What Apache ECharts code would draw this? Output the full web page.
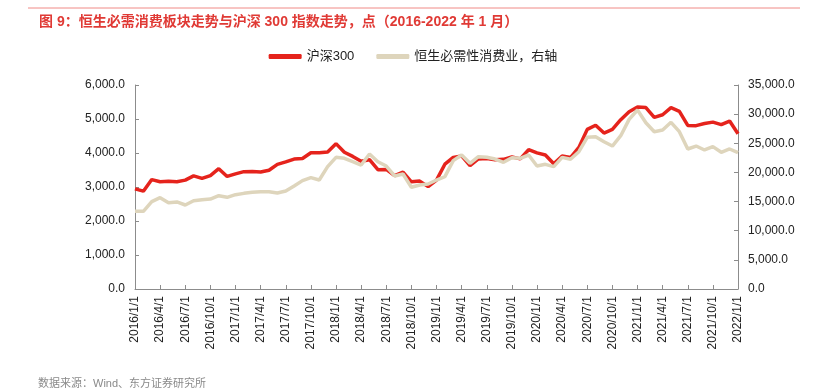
<!DOCTYPE html>
<html lang="zh-CN">
<head>
	<meta charset="UTF-8">
	<title>恒生必需消费板块走势与沪深300指数走势</title>
	<script src="https://cdn.jsdelivr.net/npm/echarts@6/dist/echarts.min.js"></script>
	<style type="text/css">
		html, body { margin: 0; padding: 0; background: #fff; }
		#main { width: 826px; height: 390px; }
	</style>
</head>
<body>
	<div id="main"></div>
	<script type="text/javascript">
		var months = [
			'2016/1/1', '2016/2/1', '2016/3/1', '2016/4/1', '2016/5/1', '2016/6/1', '2016/7/1', '2016/8/1', '2016/9/1', '2016/10/1', '2016/11/1', '2016/12/1',
			'2017/1/1', '2017/2/1', '2017/3/1', '2017/4/1', '2017/5/1', '2017/6/1', '2017/7/1', '2017/8/1', '2017/9/1', '2017/10/1', '2017/11/1', '2017/12/1',
			'2018/1/1', '2018/2/1', '2018/3/1', '2018/4/1', '2018/5/1', '2018/6/1', '2018/7/1', '2018/8/1', '2018/9/1', '2018/10/1', '2018/11/1', '2018/12/1',
			'2019/1/1', '2019/2/1', '2019/3/1', '2019/4/1', '2019/5/1', '2019/6/1', '2019/7/1', '2019/8/1', '2019/9/1', '2019/10/1', '2019/11/1', '2019/12/1',
			'2020/1/1', '2020/2/1', '2020/3/1', '2020/4/1', '2020/5/1', '2020/6/1', '2020/7/1', '2020/8/1', '2020/9/1', '2020/10/1', '2020/11/1', '2020/12/1',
			'2021/1/1', '2021/2/1', '2021/3/1', '2021/4/1', '2021/5/1', '2021/6/1', '2021/7/1', '2021/8/1', '2021/9/1', '2021/10/1', '2021/11/1', '2021/12/1',
			'2022/1/1'
		];

		// 沪深300（左轴）
		var hs300 = [
			2946, 2877, 3218, 3156, 3169, 3154, 3203, 3327, 3253, 3336, 3538, 3311,
			3387, 3452, 3456, 3439, 3493, 3666, 3737, 3822, 3837, 4006, 4006, 4031,
			4275, 4023, 3899, 3757, 3802, 3510, 3517, 3335, 3439, 3153, 3173, 3011,
			3202, 3670, 3872, 3913, 3630, 3826, 3836, 3799, 3814, 3886, 3828, 4097,
			4004, 3940, 3686, 3912, 3867, 4164, 4695, 4817, 4587, 4695, 4980, 5211,
			5352, 5336, 5048, 5124, 5332, 5224, 4812, 4805, 4866, 4908, 4833, 4940,
			4564
		];

		// 恒生必需性消费业（右轴）
		var hsStaples = [
			13330, 13330, 14980, 15670, 14810, 14930, 14410, 15150, 15330, 15440, 16010, 15730,
			16180, 16410, 16590, 16700, 16700, 16470, 16800, 17670, 18590, 19100, 18700, 20990,
			22590, 22420, 21840, 21270, 23160, 21840, 21100, 19390, 19730, 17450, 17840, 18010,
			18700, 19270, 22020, 22990, 21560, 22700, 22590, 22300, 21730, 22530, 22420, 22990,
			21100, 21390, 20990, 22590, 22250, 23560, 26020, 26130, 25270, 24530, 26300, 29110,
			30710, 28530, 26990, 27280, 28600, 26990, 24020, 24530, 23850, 24420, 23450, 24020,
			23390
		];

		var leftTicks = { min: 0, max: 6000, interval: 1000 };
		var rightTicks = { min: 0, max: 35000, interval: 5000 };

		var FONT = "'Liberation Sans', 'Noto Sans CJK SC', sans-serif";
		var RED = '#e5231c';
		var BEIGE = '#ded5bc';
		var AXIS = '#8c8c8c';

		function fmt(v) {
			return v.toLocaleString('en-US', { minimumFractionDigits: 1, maximumFractionDigits: 1 });
		}

		var chart = echarts.init(document.getElementById('main'));

		var option = {
			animation: false,
			textStyle: { fontFamily: FONT },
			title: {
				text: '图 9：恒生必需消费板块走势与沪深 300 指数走势，点（2016-2022 年 1 月）',
				left: 34,
				top: 10,
				textStyle: { color: '#e03a35', fontSize: 14, fontWeight: 'bold', fontFamily: FONT }
			},
			graphic: [
				{
					type: 'line',
					shape: { x1: 28, y1: 8, x2: 800, y2: 8 },
					style: { stroke: '#f08a86', lineWidth: 1 }
				},
				{
					type: 'text',
					left: 38,
					top: 378,
					style: { text: '数据来源：Wind、东方证券研究所', fill: '#8a8a8a', fontSize: 11, fontFamily: FONT }
				}
			],
			legend: {
				top: 45,
				left: 'center',
				itemWidth: 33,
				itemHeight: 5,
				itemGap: 22,
				icon: 'roundRect',
				textStyle: { color: '#222', fontSize: 13, fontFamily: FONT },
				data: ['沪深300', '恒生必需性消费业，右轴']
			},
			grid: { left: 135, right: 88, top: 85, bottom: 101 },
			xAxis: {
				type: 'category',
				boundaryGap: false,
				data: months,
				axisLine: { lineStyle: { color: AXIS } },
				axisTick: { inside: true, interval: 2, length: 4, lineStyle: { color: AXIS } },
				axisLabel: { interval: 2, rotate: 90, fontSize: 12, color: '#222', margin: 7 }
			},
			yAxis: [
				{
					type: 'value',
					min: leftTicks.min,
					max: leftTicks.max,
					interval: leftTicks.interval,
					splitLine: { show: false },
					axisLine: { show: true, lineStyle: { color: AXIS } },
					axisTick: { show: true, inside: true, length: 4, lineStyle: { color: AXIS } },
					axisLabel: { formatter: fmt, fontSize: 12, color: '#222', margin: 10 }
				},
				{
					type: 'value',
					min: rightTicks.min,
					max: rightTicks.max,
					interval: rightTicks.interval,
					splitLine: { show: false },
					axisLine: { show: true, lineStyle: { color: AXIS } },
					axisTick: { show: true, inside: true, length: 4, lineStyle: { color: AXIS } },
					axisLabel: { formatter: fmt, fontSize: 12, color: '#222', margin: 10 }
				}
			],
			series: [
				{
					name: '沪深300',
					type: 'line',
					yAxisIndex: 0,
					data: hs300,
					symbol: 'none',
					itemStyle: { color: RED },
					lineStyle: { color: RED, width: 3.5 }
				},
				{
					name: '恒生必需性消费业，右轴',
					type: 'line',
					yAxisIndex: 1,
					data: hsStaples,
					symbol: 'none',
					itemStyle: { color: BEIGE },
					lineStyle: { color: BEIGE, width: 3.5 }
				}
			]
		};

		chart.setOption(option);
	</script>
</body>
</html>
